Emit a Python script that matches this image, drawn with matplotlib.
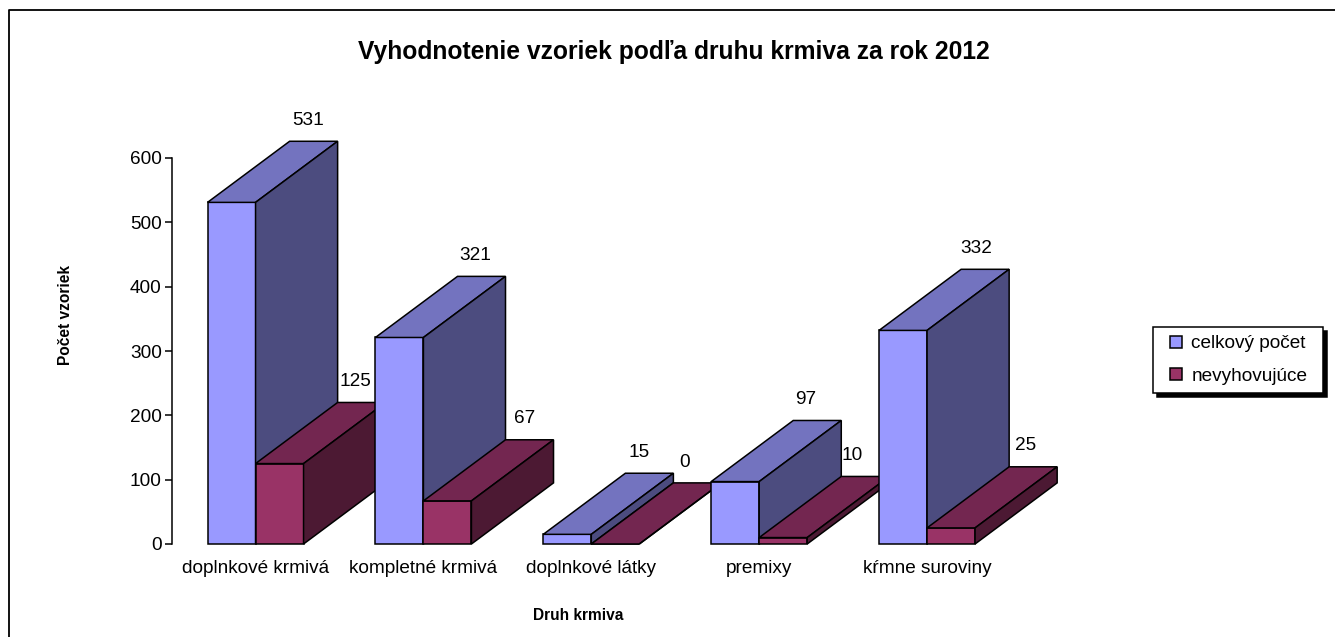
import matplotlib
matplotlib.use('Agg')
import matplotlib.pyplot as plt
import numpy as np
from matplotlib.lines import Line2D
from matplotlib.patches import Polygon

plt.rcParams['font.family'] = ['Liberation Sans', 'DejaVu Sans']

categories = ['doplnkové krmivá', 'kompletné krmivá', 'doplnkové látky', 'premixy', 'kŕmne suroviny']
total = [531, 321, 15, 97, 332]
failing = [125, 67, 0, 10, 25]
series_names = ['celkový počet', 'nevyhovujúce']
y_ticks = [0, 100, 200, 300, 400, 500, 600]

W, H = 1335, 637
BAR_W = 0.286
DEPTH_X = 0.489
DEPTH_Y = 95
FS = 13.7

FRONT = ['#9999FF', '#993366']
TOP = ['#7373BF', '#732650']
SIDE = ['#4C4C7F', '#4C1933']

# small sideways shifts of the value labels, in points
NUDGE = [[0.7, 0, -2.9, -3.6, -2.2], [0, 0.7, -5, -5, -0.7]]


def draw_box(ax, x0, val, k, nudge):
    x1 = x0 + BAR_W
    faces = [
        ([(x0, 0), (x1, 0), (x1, val), (x0, val)], FRONT[k]),
        ([(x0, val), (x1, val), (x1 + DEPTH_X, val + DEPTH_Y), (x0 + DEPTH_X, val + DEPTH_Y)], TOP[k]),
        ([(x1, 0), (x1 + DEPTH_X, DEPTH_Y), (x1 + DEPTH_X, val + DEPTH_Y), (x1, val)], SIDE[k]),
    ]
    for pts, col in faces:
        ax.add_patch(Polygon(pts, closed=True, facecolor=col, edgecolor='black',
                             linewidth=1.1, joinstyle='miter', clip_on=False))
    ax.annotate(str(val), (x0 + BAR_W / 2 + DEPTH_X, val + DEPTH_Y),
                textcoords='offset points', xytext=(-4.5 + nudge, 15), ha='center', va='center',
                fontsize=FS, annotation_clip=False, zorder=20)


fig = plt.figure(figsize=(W / 100, H / 100), dpi=100)
ax = fig.add_axes([172 / W, (H - 544) / H, (1058 - 172) / W, 386 / H])

for i in range(len(categories)):
    draw_box(ax, i - BAR_W, total[i], 0, NUDGE[0][i])
    draw_box(ax, i, failing[i], 1, NUDGE[1][i])

ax.set_xlim(-0.4976, 4.78)
ax.set_ylim(0, 600)
ax.set_yticks(y_ticks)
ax.set_xticks(range(len(categories)))
ax.set_xticklabels(categories)
ax.tick_params(axis='y', length=5, width=1.1, pad=2.3, labelsize=FS)
ax.tick_params(axis='x', length=0, pad=11.5, labelsize=FS)
for s in ['top', 'right', 'bottom']:
    ax.spines[s].set_visible(False)
ax.spines['left'].set_linewidth(1.1)

fig.text(674 / W, 1 - 52 / H, 'Vyhodnotenie vzoriek podľa druhu krmiva za rok 2012',
         ha='center', va='center', fontsize=17.7, fontweight='bold')
ax.set_xlabel('Druh krmiva', fontsize=11.2, fontweight='bold', va='center')
ax.xaxis.set_label_coords(578 / W, 1 - 616 / H, transform=fig.transFigure)
ax.set_ylabel('Počet vzoriek', fontsize=11.2, fontweight='bold', va='center')
ax.yaxis.set_label_coords(65 / W, 1 - 315 / H, transform=fig.transFigure)

handles = [Line2D([], [], linestyle='none', marker='s', markersize=8, markerfacecolor=FRONT[k],
                  markeredgecolor='black', markeredgewidth=1.1) for k in range(2)]
leg = ax.legend(handles, series_names, loc='upper left', mode='expand',
                bbox_to_anchor=(1153 / W, 1 - 393 / H, 170 / W, 66 / H),
                bbox_transform=fig.transFigure, borderaxespad=0, fancybox=False, framealpha=1,
                edgecolor='black', fontsize=FS, handlelength=1.6, handletextpad=0,
                labelspacing=0.8, borderpad=0.42,
                shadow={'ox': 3, 'oy': -3, 'facecolor': 'black', 'edgecolor': 'black', 'alpha': 1})
leg.get_frame().set_linewidth(1.1)

# page frame of the original document, only top and left show
fig.add_artist(Line2D([8.5 / W, 8.5 / W, 1], [0, 1 - 9.5 / H, 1 - 9.5 / H],
                      color='black', linewidth=1.3, transform=fig.transFigure))

# descenders of the heading cut off above the chart
fig.text(260 / W, 1 + 5 / H, 'y', ha='center', va='baseline', fontsize=15,
         fontweight='bold', family='Liberation Serif')
fig.text(545 / W, 1 + 5 / H, 'p', ha='center', va='baseline', fontsize=15,
         fontweight='bold', family='Liberation Serif')

fig.savefig('out.png', dpi=100)
